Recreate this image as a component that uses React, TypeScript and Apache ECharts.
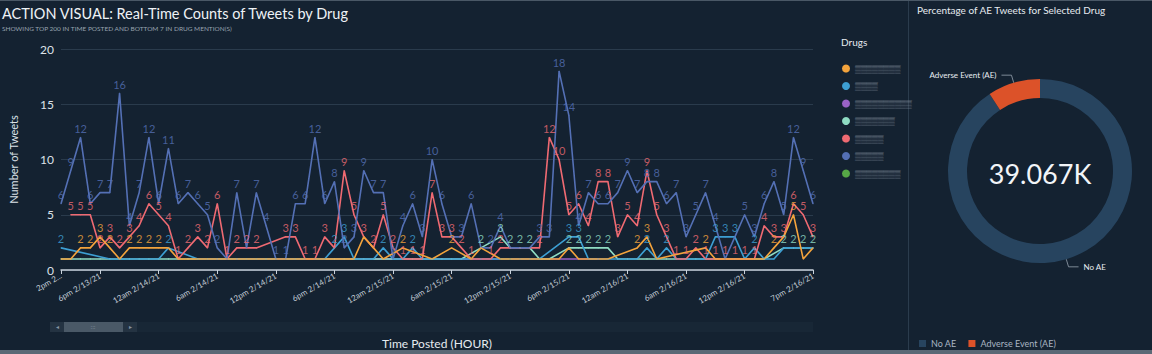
import React, { useEffect, useRef } from "react";
import * as echarts from "echarts";

const hourLabels = [
  "2pm 2/13/21", "3pm 2/13/21", "4pm 2/13/21", "5pm 2/13/21", "6pm 2/13/21", "7pm 2/13/21", "8pm 2/13/21", "9pm 2/13/21", "10pm 2/13/21", "11pm 2/13/21",
  "12am 2/14/21", "1am 2/14/21", "2am 2/14/21", "3am 2/14/21", "4am 2/14/21", "5am 2/14/21", "6am 2/14/21", "7am 2/14/21", "8am 2/14/21", "9am 2/14/21", "10am 2/14/21", "11am 2/14/21",
  "12pm 2/14/21", "1pm 2/14/21", "2pm 2/14/21", "3pm 2/14/21", "4pm 2/14/21", "5pm 2/14/21", "6pm 2/14/21", "7pm 2/14/21", "8pm 2/14/21", "9pm 2/14/21", "10pm 2/14/21", "11pm 2/14/21",
  "12am 2/15/21", "1am 2/15/21", "2am 2/15/21", "3am 2/15/21", "4am 2/15/21", "5am 2/15/21", "6am 2/15/21", "7am 2/15/21", "8am 2/15/21", "9am 2/15/21", "10am 2/15/21", "11am 2/15/21",
  "12pm 2/15/21", "1pm 2/15/21", "2pm 2/15/21", "3pm 2/15/21", "4pm 2/15/21", "5pm 2/15/21", "6pm 2/15/21", "7pm 2/15/21", "8pm 2/15/21", "9pm 2/15/21", "10pm 2/15/21", "11pm 2/15/21",
  "12am 2/16/21", "1am 2/16/21", "2am 2/16/21", "3am 2/16/21", "4am 2/16/21", "5am 2/16/21", "6am 2/16/21", "7am 2/16/21", "8am 2/16/21", "9am 2/16/21", "10am 2/16/21", "11am 2/16/21",
  "12pm 2/16/21", "1pm 2/16/21", "2pm 2/16/21", "3pm 2/16/21", "4pm 2/16/21", "5pm 2/16/21", "6pm 2/16/21", "7pm 2/16/21",
];
const shownLabelIndices = [0, 4, 10, 16, 22, 28, 34, 40, 46, 52, 58, 64, 70, 77];
const firstLabelText = "2pm 2...";

const drugNames = ["Drug 1", "Drug 2", "Drug 3", "Drug 4", "Drug 5", "Drug 6", "Drug 7"];
const drugMasks = ["▒▒▒▒▒▒▒▒", "▒▒▒▒", "▒▒▒▒▒▒▒▒▒▒", "▒▒▒▒▒▒▒", "▒▒▒▒▒", "▒▒▒▒▒", "▒▒▒▒▒▒▒▒"];
const drugColors = ["#f3a33c", "#3d9fd3", "#9a62c6", "#8fdcc3", "#ef6a72", "#5470b5", "#56a846"];
// series whose "1" labels are mostly hidden in the reference
const quietLabelDrugs = ["Drug 1", "Drug 2", "Drug 3", "Drug 4", "Drug 7"];

const n = null;
const drug1Counts = [1, 1, 2, 2, 3, 2, 1, 2, 2, 2, 2, 2, 1, 1, 1, 1, 1, 1, 1, 1, 1, 1, 1, 1, 1, 1, 1, 1, 1, 1, 1, 3, 2, 1, n, 2, n, n, 1, n, 2, n, 1, 2, n, 1, 1, 1, 1, 1, 1, 1, 2, 1, 1, 1, 1, n, n, 2, 3, 1, n, n, n, n, 2, 1, 1, 1, 1, 1, 1, 2, 3, 5, 1, 2];
const drug2Counts = [2, n, n, n, n, 1, 1, 1, 1, 1, 1, 2, n, n, 1, 1, 1, 1, 1, 1, 1, 1, 1, 1, 1, 1, 1, 1, 2, 3, 1, 1, 1, 2, 1, 1, 2, 1, 1, 1, 1, 1, 1, 1, 1, 1, 1, 1, 1, 1, n, n, 3, 3, 1, 1, 1, 1, 1, 1, 2, 1, 2, 1, 1, 1, 1, 3, 3, 3, 1, 2, 1, 1, 2, 2, 2, 2];
const drug3Counts = [n, n, n, n, n, n, n, n, n, n, n, n, n, n, n, n, 1, 1, 1, n, n, n, n, n, n, n, n, n, n, n, n, n, n, n, n, n, n, n, n, n, n, n, n, n, n, n, n, n, n, n, n, n, n, n, 1, 1, n, n, n, n, n, n, n, n, n, n, n, n, n, n, n, n, n, n, n, n, n, n];
const drug4Counts = [1, 1, 1, 1, 1, 1, 1, 1, 1, 1, 1, 1, 1, 1, 1, 1, 1, 1, 1, 1, 1, 1, 1, 1, 1, 1, 1, 1, 1, 1, 1, 1, 1, 1, 1, 1, 1, 1, 1, 1, 1, 1, n, 2, n, 3, 2, 2, 2, 1, 1, n, 2, 2, 2, 2, 2, 1, 1, 1, 1, 1, 1, 1, 1, 1, 1, 1, 1, 1, 1, 1, 1, n, 2, 2, 2, 2];
const drug5Counts = [n, 5, 5, 5, 2, 3, 2, 3, 4, 6, 5, 4, 1, 2, 3, 2, 6, 1, 2, 2, 2, n, n, 3, 3, 1, 1, 3, 2, 9, 5, 3, 2, 5, 2, 1, 1, 1, 7, 3, 3, 2, 1, n, 1, 2, 2, 2, 2, 2, 12, 10, 5, 6, 4, 8, 8, 3, 5, 4, 9, 5, 3, 1, 1, 2, 1, 1, 1, 1, 1, 1, 4, 3, 3, 6, 5, 3];
const drug6Counts = [6, 9, 12, 6, 7, 7, 16, 4, 7, 12, 6, 11, 6, 7, 6, 5, 2, 1, 7, 2, 7, 4, 1, 1, 6, 6, 12, 6, 8, 2, 3, 9, 7, 7, 1, 4, 6, 3, 10, 6, 3, 3, 6, 2, 2, 4, 2, 2, 2, 3, 3, 18, 14, 4, 7, 6, 6, 7, 9, 7, 8, 8, 6, 7, 3, 5, 7, 4, 1, 3, 5, 3, 6, 8, 5, 12, 9, 6];
const drug7Counts = [n, n, n, n, n, n, n, n, n, n, n, n, n, n, n, n, n, n, n, n, n, n, n, n, n, n, n, n, n, n, n, n, n, n, n, n, n, n, n, n, n, n, n, n, n, 1, 1, n, n, n, n, n, n, n, n, n, n, n, n, n, n, n, n, n, n, n, n, n, n, n, n, n, n, n, n, n, n, n];
const drugCounts = [drug1Counts, drug2Counts, drug3Counts, drug4Counts, drug5Counts, drug6Counts, drug7Counts];
const drawOrder = [2, 6, 3, 1, 4, 5, 0];

const yTickValues = [0, 5, 10, 15, 20];
const aeCategories = ["No AE", "Adverse Event (AE)"];
const aeCounts = [35467, 3600];
const aeColors = ["#27445f", "#dc5229"];
const totalLabel = "39.067K";

const FONT = "Lato, 'Open Sans', sans-serif";

export default function App() {
  const ref = useRef<HTMLDivElement>(null);
  useEffect(() => {
    document.body.style.margin = "0";
    const chart = echarts.init(ref.current!, null, { renderer: "svg" });
    const shown = new Set(shownLabelIndices);
    const lineSeries = drawOrder.map((k) => {
      const quiet = quietLabelDrugs.includes(drugNames[k]);
      return {
        type: "line",
        name: drugNames[k],
        data: drugCounts[k],
        connectNulls: true,
        symbol: "circle",
        symbolSize: 1,
        showAllSymbol: true,
        lineStyle: { color: drugColors[k], width: 1.6 },
        itemStyle: { color: drugColors[k] },
        label: {
          show: true,
          position: "top",
          distance: 3,
          fontSize: 11,
          fontFamily: FONT,
          color: drugColors[k],
          opacity: 0.8,
          formatter: (p: any) => (quiet && p.value === 1 ? "" : String(p.value)),
        },
        labelLayout: { hideOverlap: true },
        emphasis: { disabled: true },
        z: 2,
      };
    });
    const option: any = {
      animation: false,
      backgroundColor: "#142231",
      textStyle: { fontFamily: FONT },
      grid: { left: 50, right: 339, top: 49, bottom: 81 },
      xAxis: {
        type: "category",
        data: hourLabels,
        boundaryGap: false,
        axisLine: { lineStyle: { color: "#c9d2db", width: 1.5 } },
        axisTick: { length: 4, interval: (i: number) => shown.has(i), lineStyle: { color: "#c9d2db" } },
        axisLabel: {
          interval: (i: number) => shown.has(i),
          rotate: 30,
          fontSize: 8,
          color: "#c3ccd6",
          margin: 5,
          formatter: (v: string, i: number) => (i === 0 ? firstLabelText : v),
        },
        splitLine: { show: false },
        name: "Time Posted (HOUR)",
        nameLocation: "middle",
        nameGap: 67,
        nameTextStyle: { color: "#e6ebf0", fontSize: 12 },
      },
      yAxis: {
        type: "value",
        min: yTickValues[0],
        max: yTickValues[yTickValues.length - 1],
        interval: 5,
        axisLabel: { fontSize: 12, color: "#dde3e9", margin: 7 },
        splitLine: { lineStyle: { color: "#2a3b4c" } },
        axisLine: { show: false },
        axisTick: { show: false },
        name: "Number of Tweets",
        nameLocation: "middle",
        nameGap: 42,
        nameTextStyle: { color: "#dde3e9", fontSize: 11 },
      },
      legend: [
        {
          data: drugNames,
          orient: "vertical",
          left: 837,
          top: 59,
          icon: "circle",
          itemWidth: 8,
          itemHeight: 8,
          itemGap: 8.5,
          selectedMode: false,
          formatter: (name: string) => drugMasks[drugNames.indexOf(name)],
          textStyle: { color: "#8d99a7", fontSize: 8, lineHeight: 9 },
        },
        {
          data: aeCategories,
          orient: "horizontal",
          left: 914,
          top: 334,
          icon: "rect",
          itemWidth: 7,
          itemHeight: 7,
          itemGap: 12,
          selectedMode: false,
          textStyle: { color: "#a9b5c2", fontSize: 9 },
        },
      ],
      series: [
        ...lineSeries,
        {
          type: "pie",
          name: "AE",
          center: [1040, 171],
          radius: [73, 92],
          startAngle: 90,
          clockwise: true,
          silent: true,
          emphasis: { disabled: true },
          data: aeCategories.map((c, i) => ({ name: c, value: aeCounts[i], itemStyle: { color: aeColors[i] } })),
          label: { show: true, position: "outside", color: "#e8edf2", fontSize: 8, formatter: "{b}" },
          labelLine: { show: true, length: 8, length2: 10, lineStyle: { color: "#7d8996", width: 1 } },
        },
      ],
      graphic: [
        { type: "rect", shape: { x: 0, y: 0, width: 1152, height: 1 }, style: { fill: "#4a5866" }, silent: true },
        { type: "rect", shape: { x: 0, y: 350, width: 1152, height: 4 }, style: { fill: "#5b6976" }, silent: true },
        { type: "line", shape: { x1: 908.5, y1: 1, x2: 908.5, y2: 350 }, style: { stroke: "#2b3c4d", lineWidth: 1 }, silent: true },
        { type: "text", x: 2, y: 13, style: { text: "ACTION VISUAL: Real-Time Counts of Tweets by Drug", fill: "#eef2f6", fontSize: 14.5, fontFamily: FONT, verticalAlign: "middle" } },
        { type: "text", x: 2, y: 28, style: { text: "SHOWING TOP 200 IN TIME POSTED AND BOTTOM 7 IN DRUG MENTION(S)", fill: "#98a4b0", fontSize: 6.5, fontFamily: FONT, verticalAlign: "middle" } },
        { type: "text", x: 841, y: 42, style: { text: "Drugs", fill: "#e6ebf0", fontSize: 10, fontFamily: FONT, verticalAlign: "middle" } },
        { type: "text", x: 917, y: 10, style: { text: "Percentage of AE Tweets for Selected Drug", fill: "#e6ebf0", fontSize: 10, fontFamily: FONT, verticalAlign: "middle" } },
        { type: "text", x: 1040, y: 173, style: { text: totalLabel, fill: "#f2f5f8", fontSize: 27, fontFamily: FONT, align: "center", verticalAlign: "middle" } },
        { type: "rect", shape: { x: 50, y: 322, width: 763, height: 10 }, style: { fill: "#182736" }, silent: true },
        { type: "rect", shape: { x: 50, y: 322, width: 87, height: 10 }, style: { fill: "#243342" }, silent: true },
        { type: "rect", shape: { x: 64, y: 322, width: 59, height: 10 }, style: { fill: "#4a5967" }, silent: true },
        { type: "text", x: 57, y: 327, style: { text: "◂", fill: "#8896a4", fontSize: 6, align: "center", verticalAlign: "middle" } },
        { type: "text", x: 130, y: 327, style: { text: "▸", fill: "#8896a4", fontSize: 6, align: "center", verticalAlign: "middle" } },
        { type: "text", x: 93, y: 327, style: { text: ":::", fill: "#a4b0bc", fontSize: 6, align: "center", verticalAlign: "middle" } },
      ],
    };
    chart.setOption(option);
    return () => chart.dispose();
  }, []);
  return <div ref={ref} style={{ position: "absolute", left: 0, top: 0, width: 1152, height: 354 }} />;
}
